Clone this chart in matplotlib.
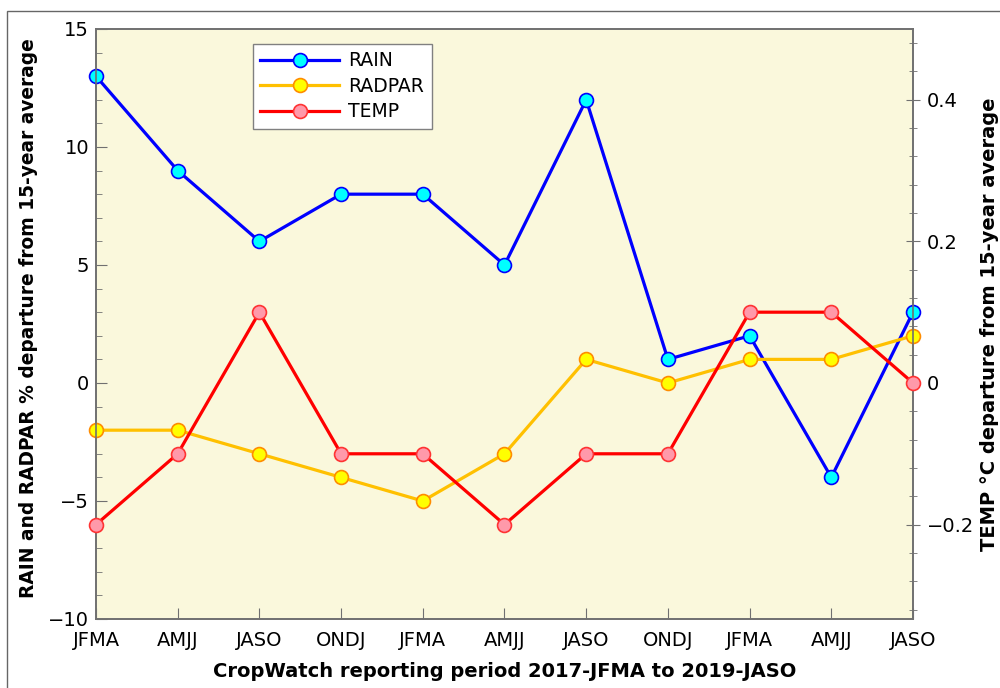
import matplotlib
matplotlib.use("Agg")
import matplotlib.pyplot as plt
from matplotlib.ticker import MultipleLocator, AutoMinorLocator
from matplotlib.patches import Rectangle

periods = ["JFMA", "AMJJ", "JASO", "ONDJ", "JFMA", "AMJJ", "JASO", "ONDJ", "JFMA", "AMJJ", "JASO"]
rain = [13, 9, 6, 8, 8, 5, 12, 1, 2, -4, 3]
radpar = [-2, -2, -3, -4, -5, -3, 1, 0, 1, 1, 2]
temp = [-0.2, -0.1, 0.1, -0.1, -0.1, -0.2, -0.1, -0.1, 0.1, 0.1, 0.0]

fig = plt.figure(figsize=(10, 6.88), dpi=100)
fig.patches.append(Rectangle((0.007, -0.1), 1.1, 1.1 - 11/688, transform=fig.transFigure,
                             fill=False, edgecolor="#666666", linewidth=1.0))
ax = fig.add_axes([0.096, 0.1003, 0.817, 0.8576])
ax.set_facecolor("#FAF8DC")
ax2 = ax.twinx()

x = list(range(len(periods)))
l1, = ax.plot(x, rain, color="#0000FF", lw=2.3, marker="o", ms=10,
              mfc="#00FFFF", mec="#0000FF", mew=1.2, label="RAIN", zorder=3, clip_on=False)
l2, = ax.plot(x, radpar, color="#FFC000", lw=2.3, marker="o", ms=10,
              mfc="#FFFF00", mec="#FF8C00", mew=1.2, label="RADPAR", zorder=3, clip_on=False)
l3, = ax2.plot(x, temp, color="#FF0000", lw=2.3, marker="o", ms=10,
               mfc="#FF99AA", mec="#FF3333", mew=1.2, label="TEMP", zorder=3, clip_on=False)

ax.set_xlim(0, 10)
ax.set_ylim(-10, 15)
ax2.set_ylim(-10/30, 15/30)
ax.set_xticks(x)
ax.set_xticklabels(periods)
ax.yaxis.set_major_locator(MultipleLocator(5))
ax.yaxis.set_minor_locator(AutoMinorLocator(5))
ax2.set_yticks([-0.2, 0, 0.2, 0.4])
ax2.set_yticklabels(["\u22120.2", "0", "0.2", "0.4"])
ax2.yaxis.set_minor_locator(AutoMinorLocator(5))

for a in (ax, ax2):
    for s in a.spines.values():
        s.set_color("#707070")
        s.set_linewidth(1.2)
ax.tick_params(axis="both", which="major", direction="in", length=8, color="#707070",
               labelsize=14)
ax.tick_params(axis="x", which="major", pad=9)
ax.tick_params(axis="y", which="major", pad=5)
ax.tick_params(axis="y", which="minor", direction="in", length=4, color="#707070")
ax.tick_params(axis="x", which="minor", bottom=False)
ax2.tick_params(axis="y", which="major", direction="inout", length=10, color="#707070",
                labelsize=14, pad=5)
ax2.tick_params(axis="y", which="minor", direction="inout", length=6, color="#707070")

ax.set_xlabel("CropWatch reporting period 2017-JFMA to 2019-JASO", fontsize=14,
              fontweight="bold", labelpad=8)
ylab1 = ax.set_ylabel("RAIN and RADPAR % departure from 15-year average", fontsize=13.4,
                      fontweight="bold")
ax.yaxis.set_label_coords(-0.083, 0.51)
ylab1.set_ha("center")
ylab1.set_va("center")
ylab2 = ax2.set_ylabel("TEMP \u00b0C departure from 15-year average", fontsize=14,
                       fontweight="bold", rotation=90)
ax2.yaxis.set_label_coords(1.094, 0.5)
ylab2.set_ha("center")
ylab2.set_va("center")

leg = ax.legend(handles=[l1, l2, l3], loc="upper left", bbox_to_anchor=(0.192, 0.975),
                borderaxespad=0, fontsize=13.5, handlelength=4.2, handletextpad=0.5,
                fancybox=False, framealpha=1, edgecolor="#808080", labelspacing=0.35)
leg.get_frame().set_linewidth(1.0)
ax.set_zorder(1)
ax2.patch.set_visible(False)
ax2.set_zorder(2)
leg.remove()
ax2.add_artist(leg)

fig.savefig("out.png", dpi=100)
